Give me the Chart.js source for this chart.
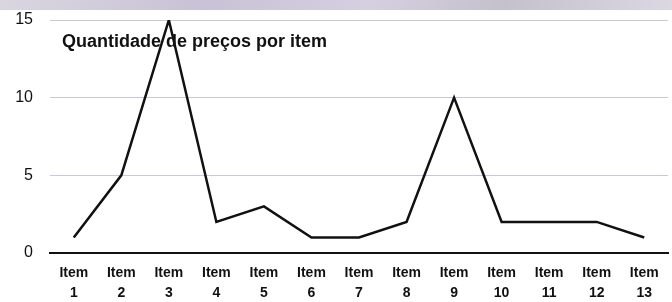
<!DOCTYPE html>
<html>
<head>
<meta charset="utf-8">
<script src="https://cdn.jsdelivr.net/npm/chart.js@4/dist/chart.umd.min.js"></script>
<style>
  html, body { margin: 0; padding: 0; background: #fff; }
  #wrap { position: relative; width: 672px; height: 302px; overflow: hidden; }
  #strip { position: absolute; left: 0; top: 0; width: 672px; height: 10px;
    background: linear-gradient(90deg, #d9d6df, #c9c2d6 30%, #d6cfe0 55%, #c4c0cc 75%, #dcd8e2); }
  canvas { position: absolute; left: 0; top: 0; }
</style>
</head>
<body>
<div id="wrap">
  <canvas id="chart" width="672" height="302"></canvas>
  <div id="strip"></div>
</div>
<script>
  // dados
  var categories = ['1', '2', '3', '4', '5', '6', '7', '8', '9', '10', '11', '12', '13'];
  var precos = [1, 5, 15, 2, 3, 1, 1, 2, 10, 2, 2, 2, 1];
  var yTicks = [0, 5, 10, 15];
  var chartTitle = 'Quantidade de preços por item';

  // fonte estreita se existir, senão Liberation Sans menor
  function hasFont(name) {
    var c = document.createElement('canvas').getContext('2d');
    c.font = '20px monospace';
    var a = c.measureText('Item 12345').width;
    c.font = '20px "' + name + '", monospace';
    return c.measureText('Item 12345').width !== a;
  }
  var narrow = hasFont('Liberation Sans Narrow');
  var xFont = narrow
    ? { family: '"Liberation Sans Narrow", sans-serif', size: 17, weight: 'bold', lineHeight: 1.2 }
    : { family: '"Liberation Sans", Arial, sans-serif', size: 14, weight: 'bold', lineHeight: 1.45 };

  var titlePlugin = {
    id: 'innerTitle',
    afterDatasetsDraw: function (chart) {
      var ctx = chart.ctx;
      ctx.save();
      ctx.font = 'bold 18px "Liberation Sans", Arial, sans-serif';
      ctx.fillStyle = '#111';
      ctx.textBaseline = 'middle';
      ctx.fillText(chartTitle, 62, 42);
      ctx.restore();
    }
  };

  new Chart(document.getElementById('chart'), {
    type: 'line',
    data: {
      labels: categories.map(function (c) { return ['Item', c]; }),
      datasets: [{
        data: precos,
        borderColor: '#111',
        borderWidth: 2.5,
        pointRadius: 0,
        tension: 0,
        fill: false
      }]
    },
    options: {
      responsive: false,
      animation: false,
      layout: { padding: { top: 20, right: 4, bottom: 0, left: 0 } },
      plugins: { legend: { display: false }, tooltip: { enabled: false } },
      scales: {
        x: {
          offset: true,
          afterFit: function (axis) { axis.height = 49; },
          grid: { display: false, drawTicks: false },
          border: { color: '#111', width: 2 },
          ticks: {
            color: '#111',
            padding: 10,
            maxRotation: 0,
            autoSkip: false,
            font: xFont
          }
        },
        y: {
          min: 0,
          max: 15,
          afterBuildTicks: function (axis) {
            axis.ticks = yTicks.map(function (v) { return { value: v }; });
          },
          afterFit: function (axis) {
            axis.width = 50;
            axis.paddingTop = 0;
            axis.paddingBottom = 0;
          },
          grid: {
            drawTicks: false,
            color: function (c) { return c.tick.value === 0 ? 'rgba(0,0,0,0)' : '#cdc7da'; },
            lineWidth: 1
          },
          border: { display: false },
          ticks: {
            color: '#111',
            padding: 17,
            font: { family: '"Liberation Sans", Arial, sans-serif', size: 16 }
          }
        }
      }
    },
    plugins: [titlePlugin]
  });
</script>
</body>
</html>
